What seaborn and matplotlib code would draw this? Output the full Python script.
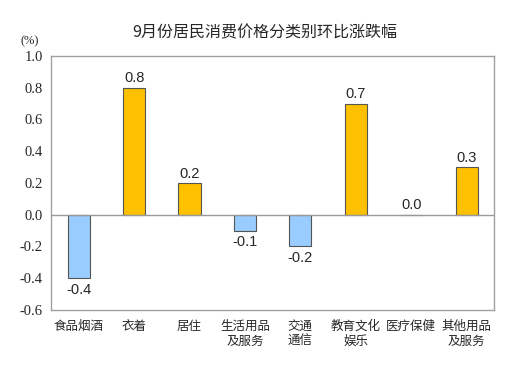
import numpy as np
import pandas as pd
import matplotlib
matplotlib.use("Agg")
import matplotlib.pyplot as plt
from matplotlib import font_manager as fm
import seaborn as sns

categories = ["食品烟酒", "衣着", "居住", "生活用品\n及服务", "交通\n通信", "教育文化\n娱乐", "医疗保健", "其他用品\n及服务"]
values = [-0.4, 0.8, 0.2, -0.1, -0.2, 0.7, 0.0, 0.3]
title = "9月份居民消费价格分类别环比涨跌幅"

sns.set_style("white")
plt.rcParams['font.family'] = ['Noto Sans CJK SC', 'DejaVu Sans']
serif_path = fm.findfont(fm.FontProperties(family=["Liberation Serif"]))
tick_font = fm.FontProperties(fname=serif_path, size=10.5)
pct_font = fm.FontProperties(fname=serif_path, size=9)

df = pd.DataFrame({"cat": categories, "val": values})
df["sign"] = np.where(df["val"] < 0, "neg", "pos")

fig = plt.figure(figsize=(5.29, 3.78), dpi=100)
ax = fig.add_axes([0.0964, 0.180, 0.838, 0.672])

sns.barplot(data=df, x="cat", y="val", hue="sign",
            palette={"pos": "#FFC000", "neg": "#99CCFF"}, saturation=1,
            width=0.4, dodge=False, legend=False,
            edgecolor="#555555", linewidth=0.8, ax=ax)

ax.axhline(0, color="#999999", lw=1, zorder=3)
ax.set_ylim(-0.6, 1.0)
ax.set_xlim(-0.5, len(categories) - 0.5)
yt = np.arange(-0.6, 1.01, 0.2)
ax.set_yticks(yt)
ax.tick_params(axis="y", direction="in", length=2, color="#999999", pad=6)
ax.tick_params(axis="x", length=0, labelsize=9, pad=7)
ax.set_yticklabels([f"{t:.1f}" for t in yt])
for lab in ax.get_yticklabels():
    lab.set_fontproperties(tick_font)
ax.set_xlabel("")
ax.set_ylabel("")
for s in ax.spines.values():
    s.set_color("#A0A0A0")
    s.set_linewidth(1)

for i, v in enumerate(values):
    if v < 0:
        ax.text(i, v - 0.03, f"{v:.1f}", ha="center", va="top",
                family="Liberation Sans", fontsize=10.5)
    else:
        ax.text(i, v + 0.015, f"{v:.1f}", ha="center", va="bottom",
                family="Liberation Sans", fontsize=10.5)

fig.text(0.5, 0.912, title, ha="center", va="center", fontsize=11.5)
fig.text(0.057, 0.89, "(%)", ha="center", va="center", fontproperties=pct_font)

fig.savefig("out.png", dpi=100)
